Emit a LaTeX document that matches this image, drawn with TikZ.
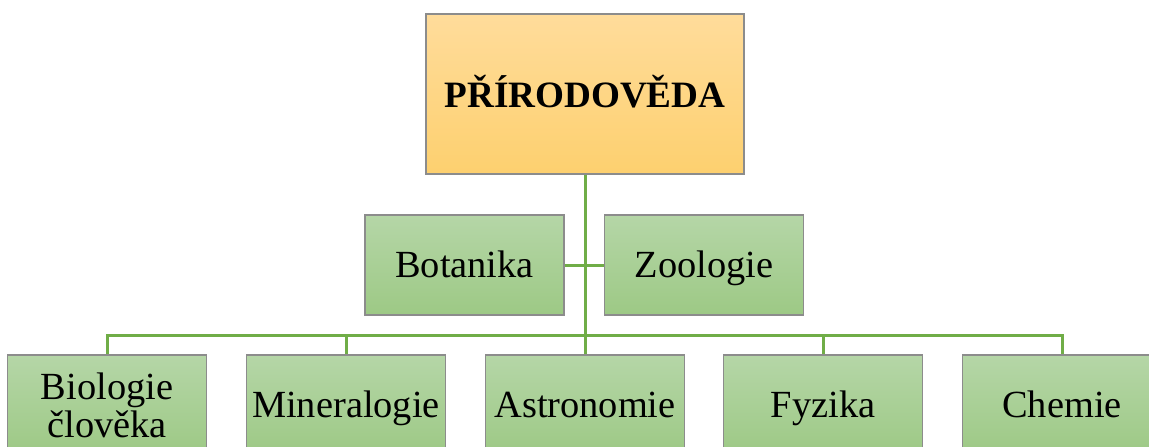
\documentclass[tikz,border=0pt]{standalone}
\usepackage{fontspec}
\setmainfont{Liberation Serif}
\usepackage{tikz}
\usetikzlibrary{positioning}
\definecolor{vetev}{HTML}{70AD47}
\definecolor{zelhore}{HTML}{B5D6A7}
\definecolor{zeldole}{HTML}{9DC985}
\definecolor{orhore}{HTML}{FFDC9B}
\definecolor{ordole}{HTML}{FDD06F}
\definecolor{okraj}{HTML}{8C8C8C}

\begin{document}
\begin{tikzpicture}[x=0.5pt, y=-0.5pt,
    hlavni/.style={draw=okraj, line width=0.6pt, top color=orhore, bottom color=ordole,
        minimum width=159pt, minimum height=80pt, text height=15pt, text depth=2pt,
        font=\fontsize{18.6}{19}\selectfont\bfseries},
    obor/.style={draw=okraj, line width=0.6pt, top color=zelhore, bottom color=zeldole,
        minimum width=99.5pt, minimum height=50pt, align=center, inner sep=1pt,
        text height=14pt, text depth=2pt, font=\fontsize{19.2}{19}\selectfont},
    spoj/.style={draw=vetev, line width=1.5pt}]
    \clip (0,0) rectangle (1149,446);
    % hlavni pole a prvni uroven
    \node[hlavni] (prir) at (585,94) {PŘÍRODOVĚDA};
    \node[obor] (bot) at (464.5,265) {Botanika};
    \node[obor] (zoo) at (704,265) {Zoologie};
    % spodni rada
    \node[obor, text height=, text depth=] (bio) at (107,405) {Biologie\\člověka};
    \node[obor] (min) at (346,405) {Mineralogie};
    \node[obor] (astr) at (585,405) {Astronomie};
    \node[obor] (fyz) at (823,405) {Fyzika};
    \node[obor] (chem) at (1062,405) {Chemie};
    \coordinate (bus) at (585,335);

    \draw[spoj] (prir.south) -- (bus);
    \draw[spoj] (bot.east) -- (zoo.west);
    \draw[spoj] (bio.north) |- (bus) -| (chem.north);
    \foreach \n in {min, astr, fyz}
        \draw[spoj] (\n.north) -- (\n.north |- bus);
\end{tikzpicture}
\end{document}
